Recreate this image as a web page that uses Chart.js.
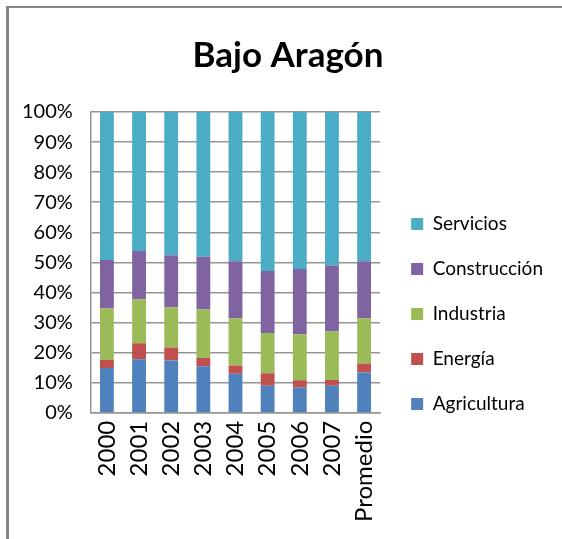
<!DOCTYPE html>
<html>
<head>
<meta charset="utf-8">
<script src="https://cdn.jsdelivr.net/npm/chart.js@4/dist/chart.umd.min.js"></script>
<style>
  html, body { margin: 0; padding: 0; background: #fff; overflow: hidden; }
  #wrap { position: relative; width: 562px; height: 539px; overflow: hidden; }
  .line { position: absolute; background: #868686; }
  #top { left: 6px; top: 6px; width: 556px; height: 2px; }
  #left { left: 6px; top: 6px; width: 3px; height: 533px; }
  canvas { position: absolute; left: 0; top: 0; }
</style>
</head>
<body>
<div id="wrap">
  <div class="line" id="top"></div>
  <div class="line" id="left"></div>
  <canvas id="chart" width="562" height="539"></canvas>
</div>
<script>
const FONT = "Lato, 'Open Sans', sans-serif";

// ── Data (shares in %) ────────────────────────────────────────
const years = ['2000', '2001', '2002', '2003', '2004', '2005', '2006', '2007', 'Promedio'];
const agricultura  = [14.9, 17.8, 17.4, 15.5, 13.0, 9.0, 8.4, 9.0, 13.4];
const energia      = [2.6, 5.3, 4.3, 2.7, 2.7, 4.1, 2.4, 1.9, 3.0];
const industria    = [17.2, 14.6, 13.4, 16.1, 15.7, 13.4, 15.3, 16.1, 15.0];
const construccion = [16.1, 16.1, 17.3, 17.6, 19.0, 20.6, 21.7, 22.0, 19.0];
const servicios    = [49.2, 46.2, 47.6, 48.1, 49.6, 52.9, 52.2, 51.0, 49.6];
const yTicks = [0, 10, 20, 30, 40, 50, 60, 70, 80, 90, 100];

const colors = {
  Agricultura: '#4f81bd',
  'Energía': '#c0504d',
  Industria: '#9bbb59',
  'Construcción': '#8064a2',
  Servicios: '#4bacc6',
};

function ds(label, data) {
  return {
    label, data,
    backgroundColor: colors[label],
    borderWidth: 0,
    barPercentage: 0.43,
    categoryPercentage: 1,
  };
}

// nudge title + legend boxes after layout (Excel-style placement)
const boxOffsets = {
  id: 'boxOffsets',
  afterLayout(chart) {
    const move = (box, dx, dy) => {
      box.left += dx; box.right += dx;
      box.top += dy; box.bottom += dy;
    };
    move(chart.titleBlock, 12, 2);
    move(chart.legend, 5, 49);
  }
};

const ctx = document.getElementById('chart').getContext('2d');
new Chart(ctx, {
  type: 'bar',
  data: {
    labels: years,
    datasets: [
      ds('Agricultura', agricultura),
      ds('Energía', energia),
      ds('Industria', industria),
      ds('Construcción', construccion),
      ds('Servicios', servicios),
    ]
  },
  plugins: [boxOffsets],
  options: {
    responsive: false,
    animation: false,
    layout: { padding: { left: 4, right: 14, top: 0, bottom: 9 } },
    plugins: {
      title: {
        display: true,
        text: 'Bajo Aragón',
        color: '#000',
        font: { size: 35, weight: 'bold', family: FONT },
        padding: { top: 33, bottom: 37 },
      },
      legend: {
        position: 'right',
        align: 'center',
        reverse: true,
        maxWidth: 220,
        labels: {
          color: '#000',
          font: { size: 19, family: FONT },
          boxWidth: 12, boxHeight: 12,
          padding: 26,
        }
      },
      tooltip: { enabled: false },
    },
    scales: {
      x: {
        stacked: true,
        grid: { display: false, drawTicks: false },
        border: { color: '#959595', width: 1.5 },
        ticks: {
          color: '#000', font: { size: 24, family: FONT },
          minRotation: 90, maxRotation: 90, padding: 8,
        }
      },
      y: {
        stacked: true,
        min: 0, max: 100,
        afterBuildTicks: axis => { axis.ticks = yTicks.map(v => ({ value: v })); },
        grid: { color: '#959595', lineWidth: 1.5, drawTicks: false },
        border: { color: '#959595', width: 1.5 },
        ticks: {
          color: '#000', font: { size: 20, family: FONT },
          padding: 18,
          callback: v => v + '%',
        }
      }
    }
  }
});
</script>
</body>
</html>
